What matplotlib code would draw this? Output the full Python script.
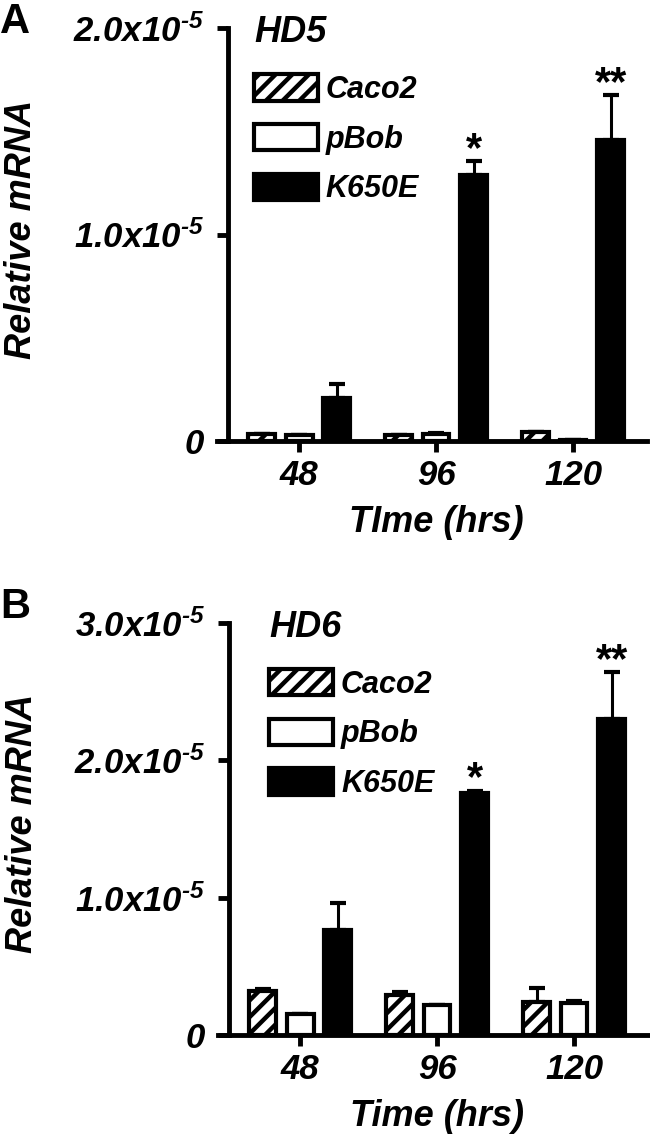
import numpy as np
import matplotlib
matplotlib.use("Agg")
import matplotlib.pyplot as plt
from matplotlib.patches import Patch

plt.rcParams.update({
	"font.family": ["Liberation Sans", "DejaVu Sans"],
	"font.weight": "bold",
	"font.style": "italic",
	"axes.labelweight": "bold",
	"mathtext.default": "regular",
	"hatch.linewidth": 3.2,
	"axes.linewidth": 3.5,
})

# Time points and cell lines
times = ["48", "96", "120"]
lines = ["Caco2", "pBob", "K650E"]

# HD5 relative mRNA (means and upper SEM)
hd5_caco2 = [0.35e-6, 0.30e-6, 0.45e-6]
hd5_pbob = [0.30e-6, 0.35e-6, 0.05e-6]
hd5_k650e = [2.09e-6, 12.9e-6, 14.6e-6]
hd5_caco2_err = [0.0, 0.0, 0.0]
hd5_pbob_err = [0.0, 0.05e-6, 0.0]
hd5_k650e_err = [0.68e-6, 0.64e-6, 2.15e-6]

# HD6 relative mRNA
hd6_caco2 = [3.2e-6, 2.9e-6, 2.4e-6]
hd6_pbob = [1.5e-6, 2.2e-6, 2.3e-6]
hd6_k650e = [7.65e-6, 17.6e-6, 23.0e-6]
hd6_caco2_err = [0.15e-6, 0.2e-6, 1.0e-6]
hd6_pbob_err = [0.05e-6, 0.0, 0.15e-6]
hd6_k650e_err = [1.95e-6, 0.2e-6, 3.4e-6]

# significance marks on K650E bars
stars = ["", "*", "**"]

styles = [
	dict(facecolor="white", hatch="//"),
	dict(facecolor="white"),
	dict(facecolor="black"),
]

fig = plt.figure(figsize=(6.5, 11.41), dpi=100)
W, H = 650.0, 1141.0


def panel(rect, means, errs, ymax, yticklabels, title, title_x, xlabel, letter, letter_y):
	ax = fig.add_axes(rect)
	x = np.arange(len(times))
	off = 0.274
	width = 0.195
	for i, (m, e) in enumerate(zip(means, errs)):
		xs = x + (i - 1)*off
		ax.errorbar(xs, m, yerr=[np.zeros(len(e)), e], fmt="none", ecolor="black",
					elinewidth=2.2, capsize=6, capthick=3, zorder=2)
		ax.bar(xs, m, width, edgecolor="black", linewidth=3, zorder=3, **styles[i])
		if i == 2:
			for xi, mi, ei, s in zip(xs, m, e, stars):
				if s:
					ax.annotate(s, (xi, mi + ei), xytext=(0, 8), textcoords="offset points",
								ha="center", va="center", fontsize=30, style="normal")

	ax.set_xlim(-0.6, 2.54)
	ax.set_ylim(0, ymax)
	ax.spines[["top", "right"]].set_visible(False)
	ax.spines["left"].set_position(("data", -0.52))
	ax.spines["left"].set_bounds(0, ymax)
	ax.set_xticks(x, times)
	ax.set_yticks(np.linspace(0, ymax, len(yticklabels)), yticklabels)
	ax.tick_params(length=8, width=3.5, labelsize=25, pad=5)
	ax.tick_params(axis="y", pad=9)

	ax.set_ylabel("Relative mRNA", fontsize=26)
	ax.yaxis.set_label_coords(-0.415, 0.513)
	ax.set_xlabel(xlabel, fontsize=26)
	ax.xaxis.set_label_coords(0.51, -0.155)

	ax.text(title_x, 0.99, title, transform=ax.transAxes,
			fontsize=26, ha="left", va="center")

	handles = [Patch(edgecolor="black", linewidth=3, label=l, **s) for l, s in zip(lines, styles)]
	ax.legend(handles=handles, loc="upper left", bbox_to_anchor=(title_x, 0.888),
			  frameon=False, fontsize=22, handlelength=2.1, handleheight=0.95,
			  handletextpad=0.25, labelspacing=0.62, borderpad=0, borderaxespad=0)

	fig.text(0.0, letter_y, letter, fontsize=30, weight="bold", style="normal",
			 ha="left", va="center")
	return ax


sup = "x10$^{\u20105}$"

# panel A: axes 217..647 px wide, y 28..441 px
panel([217/W, 1 - 441/H, 430/W, 413/H],
	  [hd5_caco2, hd5_pbob, hd5_k650e], [hd5_caco2_err, hd5_pbob_err, hd5_k650e_err],
	  2e-5, ["0", "1.0" + sup, "2.0" + sup], "HD5", 0.086,
	  "TIme (hrs)", "A", 1 - 22/H)

# panel B: axes 218..648 px wide, y 623..1035 px
panel([218/W, 1 - 1035/H, 430/W, 412/H],
	  [hd6_caco2, hd6_pbob, hd6_k650e], [hd6_caco2_err, hd6_pbob_err, hd6_k650e_err],
	  3e-5, ["0", "1.0" + sup, "2.0" + sup, "3.0" + sup], "HD6", 0.119,
	  "Time (hrs)", "B", 1 - 607/H)

fig.savefig("out.png", dpi=100)
